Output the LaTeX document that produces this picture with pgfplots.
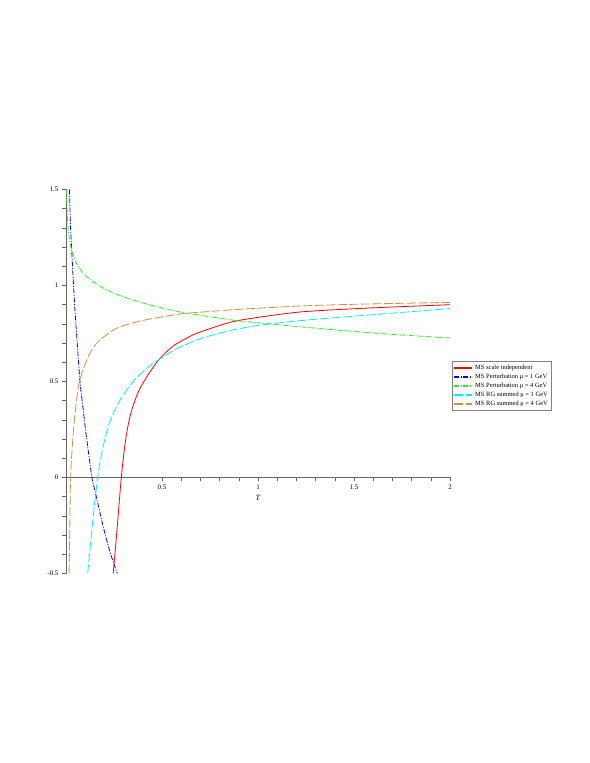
\documentclass[border=0pt]{standalone}
\usepackage{fontspec}
\setmainfont{Liberation Serif}
\usepackage{pgfplots}
\pgfplotsset{compat=1.18}
\definecolor{cRed}{RGB}{255,0,0}
\definecolor{cBlue}{RGB}{0,0,255}
\definecolor{cGreen}{RGB}{40,235,40}
\definecolor{cCyan}{RGB}{0,240,255}
\definecolor{cOrange}{RGB}{210,140,70}
\begin{document}
\begin{tikzpicture}
\begin{axis}[
  at={(0,0)}, anchor=south west,
  scale only axis, width=384bp, height=384bp,
  xmin=0, xmax=2, ymin=-0.5, ymax=1.5,
  axis lines=middle,
  axis line style={-, draw=black!60, line width=0.6bp},
  xtick={0.5,1,1.5,2}, ytick={-0.5,0,0.5,1,1.5},
  minor x tick num=4, minor y tick num=4,
  tick align=outside, major tick length=4bp, minor tick length=4bp,
  tick style={draw=black!60, line width=0.5bp},
  hide obscured x ticks=false, hide obscured y ticks=false,
  ticklabel style={font=\fontsize{7}{8}\selectfont},
  /pgf/number format/assume math mode=true,
  xlabel={\textit{T}},
  xlabel style={at={(axis description cs:0.5,0.25)}, anchor=north, yshift=-14bp, font=\fontsize{8}{9}\selectfont},
  legend cell align=left,
  legend style={at={(axis description cs:1.005,0.553)}, anchor=north west,
    font=\fontsize{6.5}{7}\selectfont, inner sep=1.5bp, row sep=-1bp},
  every axis legend/.append style={draw=black!50},
  legend image code/.code={\draw[#1, line width=1.6bp, sharp plot] (0bp,0bp) -- (18bp,0bp);},
  every axis plot/.append style={line width=0.8bp},
]
% MS scale independent
\addplot[draw={rgb,255:red,255;green,0;blue,0}, solid, smooth, tension=0.5] coordinates {
(0.246,-0.5) (0.267,-0.256) (0.288,0) (0.307,0.17) (0.325,0.28) (0.342,0.35) (0.37,0.43) (0.394,0.48) (0.4375,0.55) (0.485,0.615) (0.559,0.685) (0.646,0.735) (0.70,0.758) (0.854,0.808) (1.0,0.834) (1.219,0.862) (1.5,0.879) (1.75,0.89) (2,0.90)};
\addlegendentry{MS scale independent}
% Perturbation mu = 1 GeV
\addplot[color=cBlue, dash pattern=on 5bp off 1.5bp on 1bp off 1.5bp, smooth, tension=0.5] coordinates {
(0.018,1.5) (0.024,1.30) (0.033,1.12) (0.042,0.95) (0.05,0.82) (0.06,0.68) (0.073,0.5) (0.09,0.35) (0.104,0.23) (0.135,0.0) (0.151,-0.07) (0.194,-0.256) (0.23,-0.39) (0.267,-0.5)};
\addlegendentry{MS Perturbation μ = 1 GeV}
% Perturbation mu = 4 GeV
\addplot[color=cGreen, dash pattern=on 5bp off 1.5bp on 1bp off 1.5bp, smooth, tension=0.5] coordinates {
(0.003,1.5) (0.006,1.39) (0.012,1.29) (0.026,1.2) (0.055,1.115) (0.108,1.046) (0.212,0.977) (0.351,0.924) (0.49,0.885) (0.594,0.862) (0.646,0.853) (0.854,0.822) (0.906,0.815) (1.219,0.785) (1.635,0.75) (2,0.727)};
\addlegendentry{MS Perturbation μ = 4 GeV}
% RG summed mu = 1 GeV
\addplot[color=cCyan, dash pattern=on 9bp off 2.5bp, smooth, tension=0.5] coordinates {
(0.113,-0.5) (0.14,-0.22) (0.165,0) (0.186,0.126) (0.22,0.265) (0.272,0.386) (0.342,0.49) (0.411,0.56) (0.485,0.615) (0.576,0.67) (0.70,0.723) (0.854,0.765) (1.0,0.792) (1.219,0.817) (1.5,0.84) (1.75,0.86) (2,0.88)};
\addlegendentry{MS RG summed μ = 1 GeV}
% RG summed mu = 4 GeV
\addplot[draw={rgb,255:red,210;green,140;blue,70}, dash pattern=on 9bp off 2.5bp, smooth, tension=0.5] coordinates {
(0.016,-0.5) (0.02,-0.25) (0.024,0) (0.035,0.195) (0.05,0.36) (0.07,0.5) (0.108,0.61) (0.16,0.70) (0.264,0.777) (0.385,0.815) (0.44,0.826) (0.594,0.852) (0.646,0.857) (0.906,0.876) (1.219,0.893) (1.5,0.902) (2,0.912)};
\addlegendentry{MS RG summed μ = 4 GeV}
\node[font=\fontsize{7.5}{8}\selectfont, inner sep=0pt] at (axis cs:0,0.3) [xshift=-21bp] {$\frac{\textit{F}}{\textit{F}_{\mathrm{0}}}$};
\end{axis}
\path (-66bp,-189.5bp) rectangle (524bp,573.5bp);
\end{tikzpicture}
\end{document}
